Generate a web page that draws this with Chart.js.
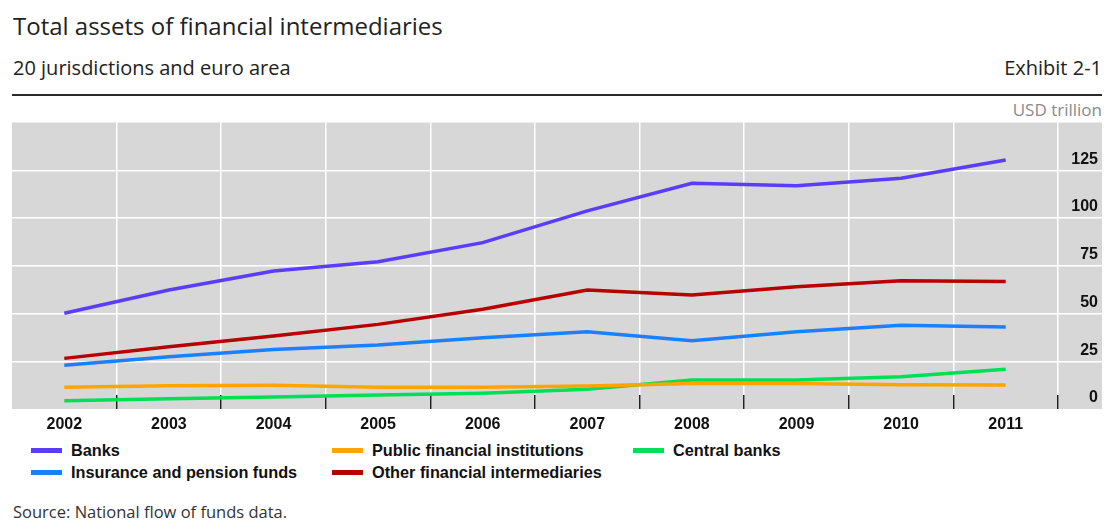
<!DOCTYPE html>
<html>
<head>
<meta charset="utf-8">
<script src="https://cdn.jsdelivr.net/npm/chart.js@4/dist/chart.umd.min.js"></script>
<style>
  body { margin: 0; background: #fff; width: 1105px; height: 524px; position: relative; overflow: hidden; }
  .txt { position: absolute; font-family: "Open Sans", "Noto Sans", sans-serif; color: #222; white-space: nowrap; }
  #title { left: 13px; top: 10px; font-size: 24px; line-height: 32px; }
  #subtitle { left: 13px; top: 55px; font-size: 20px; line-height: 26px; }
  #exhibit { right: 3px; top: 55px; font-size: 20px; line-height: 26px; }
  #rule { position: absolute; left: 12px; top: 94px; width: 1090px; height: 2px; background: #2a2a2a; }
  #unit { right: 3px; top: 98px; font-size: 17px; line-height: 24px; color: #8a8a8a; }
  #source { left: 13px; top: 500px; font-size: 16.5px; line-height: 24px; color: #333; }
  #wrap { position: absolute; left: 0; top: 100px; }
  #legend { position: absolute; left: 31px; top: 439px; display: grid; grid-template-rows: 22px 22px;
            grid-auto-flow: column; grid-auto-columns: 301px;
            font-family: "Liberation Sans", Arial, sans-serif; font-weight: bold; font-size: 16.3px; color: #111; }
  #legend div { display: flex; align-items: center; white-space: nowrap; }
  #legend span.sw { display: inline-block; width: 31px; height: 5px; margin-right: 9px; }
</style>
</head>
<body>
<div id="title" class="txt">Total assets of financial intermediaries</div>
<div id="subtitle" class="txt">20 jurisdictions and euro area</div>
<div id="exhibit" class="txt">Exhibit 2-1</div>
<div id="rule"></div>
<div id="unit" class="txt">USD trillion</div>
<div id="wrap"><canvas id="chart" width="1105" height="339"></canvas></div>
<div id="legend"></div>
<div id="source" class="txt">Source: National flow of funds data.</div>
<script>
// USD trillion, 2002-2011
var years = ['2002', '2003', '2004', '2005', '2006', '2007', '2008', '2009', '2010', '2011']
var banks = [50.1, 62.3, 72.2, 77.1, 87.1, 103.7, 118.2, 116.9, 120.8, 130.4]
var insurancePension = [22.9, 27.4, 31.2, 33.5, 37.3, 40.5, 35.8, 40.5, 43.8, 42.9]
var publicInstitutions = [11.4, 12.2, 12.4, 11.4, 11.4, 12.0, 13.4, 13.4, 12.7, 12.6]
var otherIntermediaries = [26.5, 32.6, 38.2, 44.3, 52.2, 62.3, 59.7, 64.0, 67.2, 66.7]
var centralBanks = [4.3, 5.4, 6.3, 7.3, 8.2, 10.3, 15.2, 15.2, 16.9, 20.8]
var yTicks = [0, 25, 50, 75, 100, 125]

var seriesNames = ['Banks', 'Insurance and pension funds', 'Public financial institutions',
    'Other financial intermediaries', 'Central banks']
var seriesColors = ['#5a3cfb', '#1a80ff', '#ffa400', '#b80000', '#00e057']
var seriesData = [banks, insurancePension, publicInstitutions, otherIntermediaries, centralBanks]

var tickFont = { family: "'Liberation Sans', Arial, sans-serif", size: 16, weight: 'bold' }

// grey panel behind the plot, running under the value labels too
var panel = {
    id: 'panel',
    beforeDraw: function (chart) {
        var a = chart.chartArea
        var ctx = chart.ctx
        ctx.save()
        ctx.fillStyle = '#d7d7d7'
        ctx.fillRect(a.left, a.top, chart.width - 3 - a.left, a.bottom - a.top)
        ctx.restore()
    }
}

var datasets = []
for (var i = 0; i < seriesNames.length; i++) {
    datasets.push({
        label: seriesNames[i],
        data: seriesData[i],
        borderColor: seriesColors[i],
        backgroundColor: seriesColors[i],
        borderWidth: 3.5,
        pointRadius: 0,
        tension: 0,
        fill: false
    })
}

var ctx = document.getElementById('chart').getContext('2d')
var myChart = new Chart(ctx, {
    type: 'line',
    data: { labels: years, datasets: datasets },
    options: {
        responsive: false,
        animation: false,
        devicePixelRatio: 1,
        layout: { padding: { left: 12, right: 7, top: 22.5, bottom: 0 } },
        plugins: { legend: { display: false }, tooltip: { enabled: false } },
        scales: {
            x: {
                offset: true,
                border: { display: false },
                grid: {
                    offset: true,
                    lineWidth: 1.5,
                    color: function (c) { return c.index === 0 ? 'rgba(0,0,0,0)' : '#ffffff' },
                    tickColor: function (c) { return c.index === 0 ? 'rgba(0,0,0,0)' : '#222222' },
                    tickWidth: 1.5,
                    tickLength: -14
                },
                ticks: { color: '#111', font: tickFont, padding: 20, maxRotation: 0, autoSkip: false },
                afterFit: function (s) { s.height = 30 }
            },
            y: {
                position: 'right',
                min: 0,
                max: 150,
                border: { display: false },
                afterBuildTicks: function (s) {
                    s.ticks = yTicks.concat([150]).map(function (v) { return { value: v } })
                },
                grid: {
                    lineWidth: 1.5,
                    color: function (c) {
                        var v = c.tick ? c.tick.value : -1
                        return (v === 0 || v === 150) ? 'rgba(0,0,0,0)' : '#ffffff'
                    },
                    tickLength: 44
                },
                ticks: {
                    color: '#111',
                    font: tickFont,
                    crossAlign: 'far',
                    padding: -31,
                    labelOffset: -11,
                    callback: function (v) { return yTicks.indexOf(v) >= 0 ? String(v) : '' }
                },
                afterFit: function (s) { s.width = 40 }
            }
        }
    },
    plugins: [panel]
})

// legend laid out in columns of two, built from the chart's datasets
var legend = document.getElementById('legend')
myChart.data.datasets.forEach(function (ds) {
    var item = document.createElement('div')
    var sw = document.createElement('span')
    sw.className = 'sw'
    sw.style.background = ds.borderColor
    item.appendChild(sw)
    item.appendChild(document.createTextNode(ds.label))
    legend.appendChild(item)
})
</script>
</body>
</html>
